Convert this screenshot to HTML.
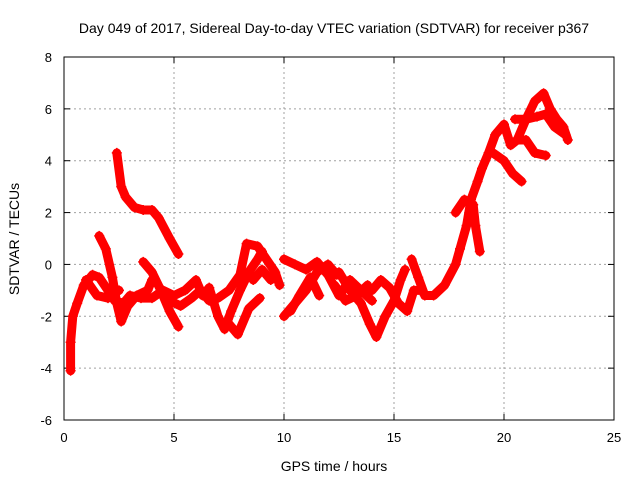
<!DOCTYPE html>
<html><head><meta charset="utf-8"><style>
body{margin:0;background:#fff}
svg{display:block;font-family:"Liberation Sans",sans-serif}
</style></head><body>
<svg id="chart" width="640" height="480">
<text x="334" y="33" font-size="14" text-anchor="middle">Day 049 of 2017, Sidereal Day-to-day VTEC variation (SDTVAR) for receiver p367</text>
<text x="334" y="471" font-size="14" text-anchor="middle">GPS time / hours</text>
<text transform="translate(19,239) rotate(-90)" font-size="14" text-anchor="middle">SDTVAR / TECUs</text>
<g id="grid"></g><g id="ticks"></g><g id="marks"></g>
<rect x="64" y="57" width="550" height="363" fill="none" stroke="#000" stroke-width="1"/>
</svg>
<script>
const xTicks=[0,5,10,15,20,25];
const yTicks=[-6,-4,-2,0,2,4,6,8];
const trackA=[[0.3,-4.1],[0.3,-3.0],[0.4,-2.0],[0.6,-1.5],[0.9,-0.8],[1.3,-0.4],[1.6,-0.5],[2.0,-1.0],[2.3,-1.4],[2.7,-1.5],[3.0,-1.2],[3.5,-1.3],[4.0,-1.3],[4.5,-1.0],[5.0,-1.2],[5.5,-1.0],[6.0,-0.6],[6.3,-1.2],[6.6,-0.9]];
const trackB=[[2.4,4.3],[2.6,3.0],[2.8,2.6],[3.2,2.2],[3.6,2.1],[4.0,2.1],[4.3,1.8],[4.8,1.0],[5.2,0.4]];
const trackC=[[1.6,1.1],[1.9,0.6],[2.2,-0.5],[2.4,-1.5],[2.6,-2.2],[2.9,-1.6],[3.3,-1.2],[3.8,-1.0],[4.0,-0.6]];
const trackD=[[3.6,0.1],[4.0,-0.3],[4.4,-1.0],[4.8,-1.8],[5.2,-2.4]];
const trackE=[[1.0,-0.6],[1.5,-1.2],[2.0,-1.3],[2.5,-1.0]];
const trackE2=[[4.8,-1.4],[5.3,-1.6],[5.8,-1.3],[6.2,-1.0],[6.6,-1.4]];
const trackF=[[6.6,-0.9],[7.0,-2.0],[7.3,-2.5],[7.6,-1.8],[8.0,-1.0],[8.4,-0.3],[8.8,0.2],[9.0,0.5]];
const trackG=[[7.0,-1.3],[7.5,-1.0],[8.0,-0.4],[8.3,0.8],[8.8,0.7],[9.2,0.2],[9.6,-0.3],[9.8,-0.8]];
const trackH=[[7.4,-2.2],[7.9,-2.7],[8.4,-1.7],[8.9,-1.3]];
const trackH2=[[8.6,-0.6],[9.0,-0.2],[9.4,-0.6]];
const trackI=[[10.0,-2.0],[10.5,-1.5],[11.0,-1.0],[11.5,-0.3],[12.0,0.0],[12.4,-0.4]];
const trackJ=[[10.0,0.2],[10.5,0.0],[11.0,-0.2],[11.5,0.1],[12.0,-0.4],[12.5,-1.2],[13.0,-0.6],[13.5,-1.0],[14.0,-1.4]];
const trackK=[[10.3,-1.8],[10.7,-1.2],[11.2,-0.5],[11.6,-1.2]];
const trackK2=[[12.3,-0.8],[12.8,-1.4],[13.3,-1.2],[13.8,-0.8]];
const trackL=[[12.5,-0.3],[13.0,-1.0],[13.5,-1.5],[13.9,-2.3],[14.2,-2.8],[14.6,-2.0],[15.0,-1.4],[15.3,-0.6],[15.5,-0.2]];
const trackM=[[14.0,-1.0],[14.4,-0.6],[14.8,-0.9],[15.2,-1.5],[15.6,-1.8],[15.9,-1.0],[16.2,-1.0]];
const trackN=[[15.8,0.2],[16.1,-0.5],[16.4,-1.2],[16.8,-1.2],[17.3,-0.8],[17.8,0.0],[18.0,0.6],[18.3,1.5],[18.5,2.5],[18.8,3.2],[19.0,3.7],[19.3,4.3],[19.6,5.0],[20.0,5.4],[20.3,4.6],[20.6,4.8],[21.0,5.6],[21.4,6.3],[21.8,6.6],[22.1,6.0],[22.4,5.6],[22.7,5.3],[22.9,4.8]];
const trackO=[[17.8,2.0],[18.2,2.5],[18.6,2.3],[18.7,1.5],[18.9,0.5]];
const trackP=[[19.5,4.3],[20.0,4.0],[20.4,3.5],[20.8,3.2]];
const trackQ=[[20.5,5.6],[21.0,5.6],[21.5,5.7],[21.9,5.8],[22.3,5.3],[22.8,5.0]];
const trackR=[[20.6,4.8],[21.0,4.8],[21.4,4.3],[21.9,4.2]];
const tracks=[trackA,trackB,trackC,trackD,trackE,trackE2,trackF,trackG,trackH,trackH2,trackI,trackJ,trackK,trackK2,trackL,trackM,trackN,trackO,trackP,trackQ,trackR];

const NS="http://www.w3.org/2000/svg";
const X=h=>64+h*22;
const Y=v=>57+(8-v)*363/14;
const grid=document.getElementById('grid'),ticks=document.getElementById('ticks'),marks=document.getElementById('marks');
function mk(tag,attrs,parent){const e=document.createElementNS(NS,tag);for(const k in attrs)e.setAttribute(k,attrs[k]);parent.appendChild(e);return e;}
xTicks.forEach(t=>{
  if(t>0&&t<25){const g=mk('line',{x1:X(t),x2:X(t),y1:57,y2:420,stroke:'#a0a0a0','stroke-dasharray':'2,3'},grid);
  
  }
  mk('line',{x1:X(t),x2:X(t),y1:420,y2:414,stroke:'#000'},ticks);
  mk('line',{x1:X(t),x2:X(t),y1:57,y2:63,stroke:'#000'},ticks);
  const l=mk('text',{x:X(t),y:442,'font-size':13,'text-anchor':'middle'},ticks);l.textContent=t;
  
  
});
yTicks.forEach(t=>{
  if(t>-6&&t<8){const g=mk('line',{x1:64,x2:614,y1:Y(t),y2:Y(t),stroke:'#a0a0a0','stroke-dasharray':'2,3'},grid);
  
  }
  mk('line',{x1:64,x2:70,y1:Y(t),y2:Y(t),stroke:'#000'},ticks);
  mk('line',{x1:614,x2:608,y1:Y(t),y2:Y(t),stroke:'#000'},ticks);
  const l=mk('text',{x:52,y:Y(t)+5,'font-size':13,'text-anchor':'end'},ticks);l.textContent=t;
  
  
});
tracks.forEach(tr=>{
  const pl=mk('polyline',{points:tr.map(p=>X(p[0])+','+Y(p[1])).join(' '),fill:'none',stroke:'#ff0000','stroke-width':9,'stroke-linejoin':'round','stroke-linecap':'round'},marks);
  
  
  tr.forEach(p=>{
    const x=X(p[0]),y=Y(p[1]);
    const m=mk('path',{d:`M${x-5},${y}H${x+5}M${x},${y-5}V${y+5}`,stroke:'#ff0000','stroke-width':1.5},marks);
    
    
  });
});
</script>
</body></html>
